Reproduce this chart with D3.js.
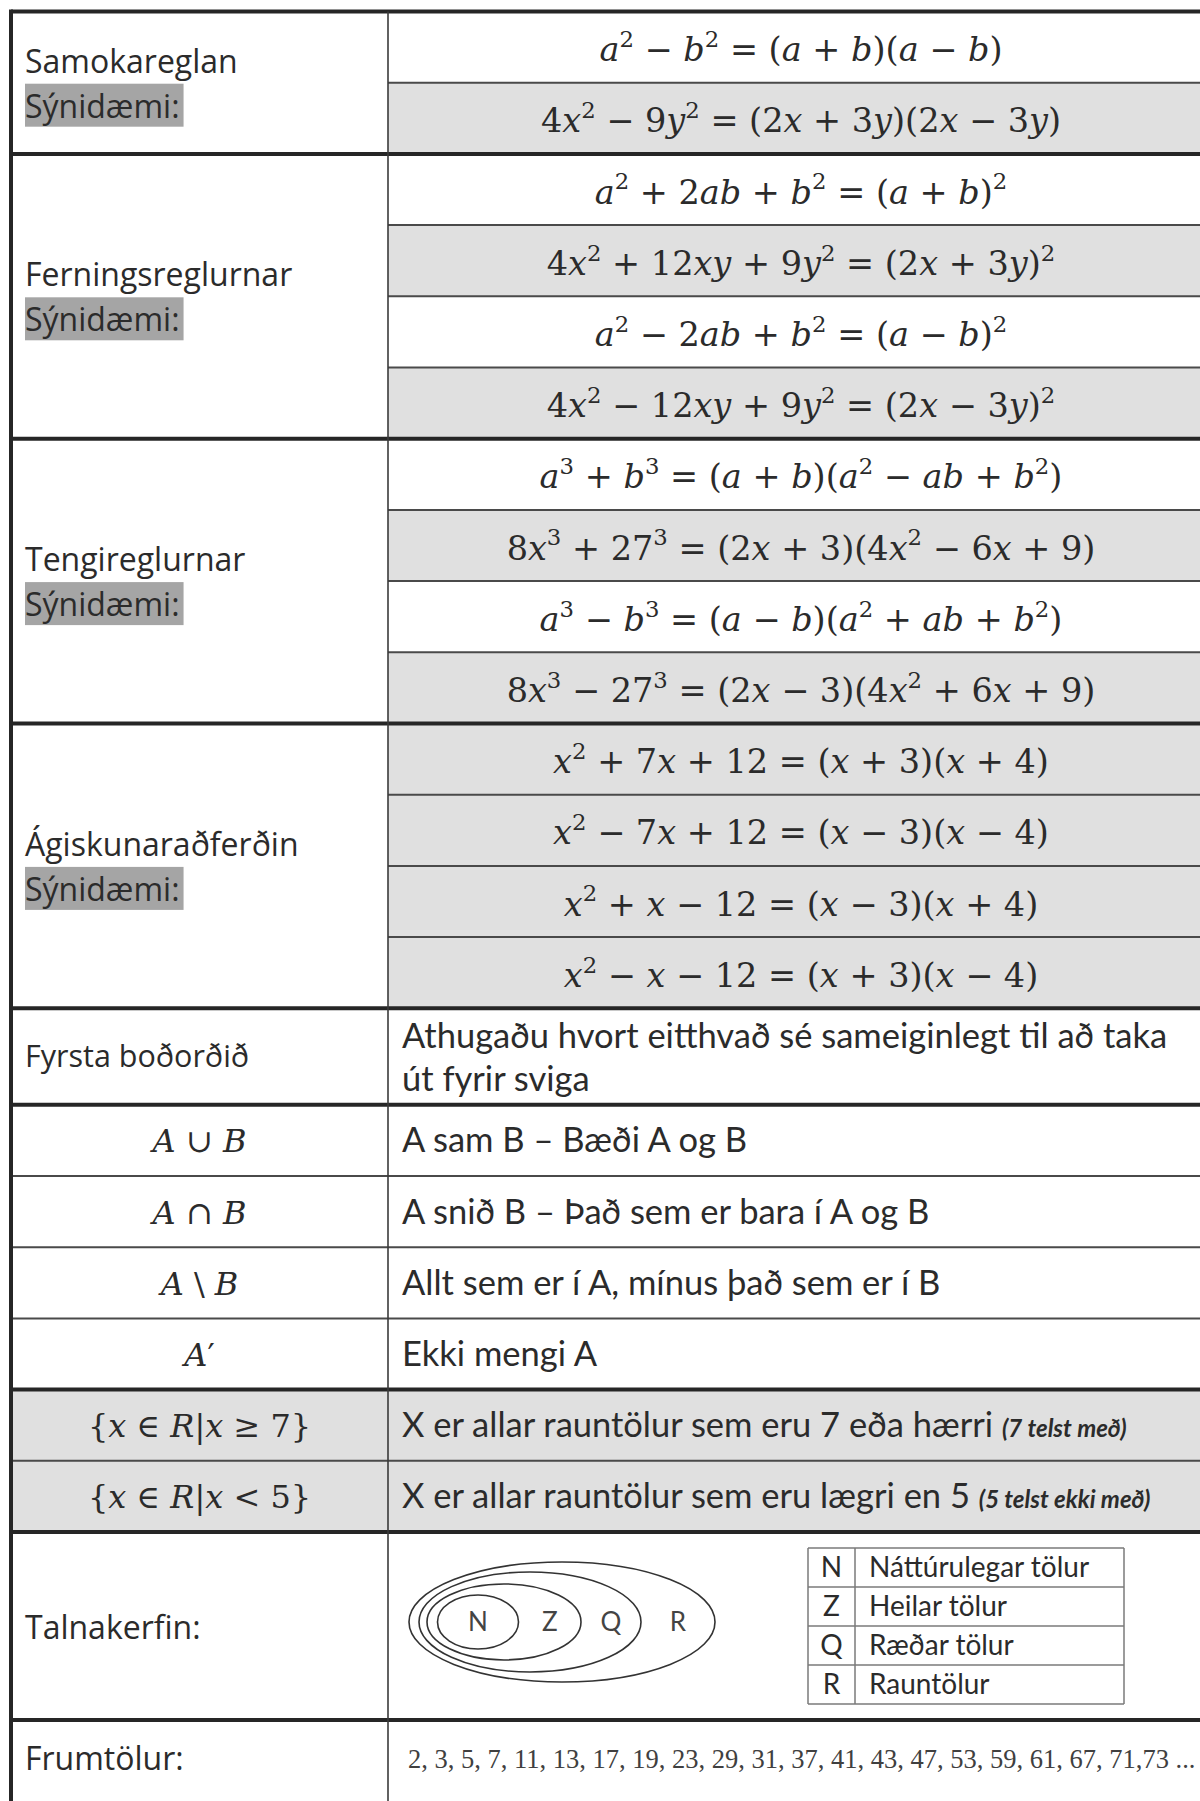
<!DOCTYPE html>
<html lang="is">
<head>
<meta charset="UTF-8">
<title>Þáttun, mengi og talnakerfi</title>
<script src="https://cdn.jsdelivr.net/npm/d3@7"></script>
<style>
  body { margin: 0; background: #fff; }
  text { white-space: pre; }
</style>
</head>
<body>
<svg width="1200" height="1801"></svg>
<script>
// gögn
var groupLabels = ["Samokareglan", "Ferningsreglurnar", "Tengireglurnar", "Ágiskunaraðferðin"];
var groupRowCounts = [2, 4, 4, 4];
var exampleLabel = "Sýnidæmi:";
var equations = [
  "a^2 − b^2 = (a + b)(a − b)",
  "4x^2 − 9y^2 = (2x + 3y)(2x − 3y)",
  "a^2 + 2ab + b^2 = (a + b)^2",
  "4x^2 + 12xy + 9y^2 = (2x + 3y)^2",
  "a^2 − 2ab + b^2 = (a − b)^2",
  "4x^2 − 12xy + 9y^2 = (2x − 3y)^2",
  "a^3 + b^3 = (a + b)(a^2 − ab + b^2)",
  "8x^3 + 27^3 = (2x + 3)(4x^2 − 6x + 9)",
  "a^3 − b^3 = (a − b)(a^2 + ab + b^2)",
  "8x^3 − 27^3 = (2x − 3)(4x^2 + 6x + 9)",
  "x^2 + 7x + 12 = (x + 3)(x + 4)",
  "x^2 − 7x + 12 = (x − 3)(x − 4)",
  "x^2 + x − 12 = (x − 3)(x + 4)",
  "x^2 − x − 12 = (x + 3)(x − 4)"
];
var shadedEquations = [false, true, false, true, false, true, false, true, false, true, true, true, true, true];
var ruleLabel = "Fyrsta boðorðið";
var ruleLines = ["Athugaðu hvort eitthvað sé sameiginlegt til að taka", "út fyrir sviga"];
var setSymbols = ["A ∪ B", "A ∩ B", "A \\ B", "A′", "{x ∈ R|x ≥ 7}", "{x ∈ R|x < 5}"];
var setTexts = [
  "A sam B – Bæði A og B",
  "A snið B – Það sem er bara í A og B",
  "Allt sem er í A, mínus það sem er í B",
  "Ekki mengi A",
  "X er allar rauntölur sem eru 7 eða hærri",
  "X er allar rauntölur sem eru lægri en 5"
];
var setNotes = ["", "", "", "", "(7 telst með)", "(5 telst ekki með)"];
var shadedSets = [false, false, false, false, true, true];
var numberSetsLabel = "Talnakerfin:";
var numberSets = ["N", "Z", "Q", "R"];
var numberSetNames = ["Náttúrulegar tölur", "Heilar tölur", "Ræðar tölur", "Rauntölur"];
var primesLabel = "Frumtölur:";
var primes = [2, 3, 5, 7, 11, 13, 17, 19, 23, 29, 31, 37, 41, 43, 47, 53, 59, 61, 67, 71, 73];

// útlit
var svg = d3.select("svg");
var W = +svg.attr("width");
var xLeft = 11, xDiv = 388, xRight = 1214;
var padL = 25, padR = 402;
var ink = "#2b2b2b", shade = "#e0e0e0";
var sansL = "'Open Sans', 'Noto Sans', sans-serif";
var sansR = "Lato, 'Open Sans', sans-serif";
var mathF = "'DejaVu Serif', serif";
var labelSize = 32, bodySize = 34.5;
var y = d3.scaleLinear().domain([0, 1]).range([11.5, 11.5 + 71.2]);

// raðir töflunnar
var rows = [];
var eqIdx = 0;
groupRowCounts.forEach(function(n, g) {
  d3.range(n).forEach(function(k) {
    rows.push({kind: "eq", i: eqIdx++, g: g, units: 1, thick: k === 0});
  });
});
rows.push({kind: "rule", units: 1.355, thick: true});
setSymbols.forEach(function(s, i) {
  rows.push({kind: "set", i: i, units: 1, thick: i === 0 || shadedSets[i] !== shadedSets[i - 1]});
});
rows.push({kind: "numbers", units: 2.64, thick: true});
rows.push({kind: "primes", units: 1.22, thick: true});
var acc = 0;
rows.forEach(function(r) {
  r.y0 = y(acc); acc += r.units; r.y1 = y(acc); r.yc = (r.y0 + r.y1) / 2;
});

// stærðfræðitexti: bókstafir skáletraðir, ^n sem veldi
function mathText(sel, str, fs) {
  var re = /\^(\d)|([A-Za-z]+)|([^A-Za-z^]+)/g, m, raised = false;
  sel.attr("font-family", mathF).attr("font-size", fs).attr("fill", ink);
  while ((m = re.exec(str))) {
    var t = sel.append("tspan");
    if (m[1]) {
      t.text(m[1]).attr("font-size", fs * 0.68).attr("dy", -fs * 0.42);
      raised = true;
    } else {
      if (raised) { t.attr("dy", fs * 0.42); raised = false; }
      t.text(m[2] || m[3]).attr("font-style", m[2] ? "italic" : "normal");
    }
  }
}

// skyggðir reitir
var bg = svg.append("g");
bg.selectAll("rect.eq")
  .data(rows.filter(function(r) { return r.kind === "eq" && shadedEquations[r.i]; }))
  .enter().append("rect")
  .attr("x", xDiv).attr("y", function(d) { return d.y0; })
  .attr("width", W - xDiv).attr("height", function(d) { return d.y1 - d.y0; })
  .attr("fill", shade);
bg.selectAll("rect.set")
  .data(rows.filter(function(r) { return r.kind === "set" && shadedSets[r.i]; }))
  .enter().append("rect")
  .attr("x", xLeft).attr("y", function(d) { return d.y0; })
  .attr("width", W - xLeft).attr("height", function(d) { return d.y1 - d.y0; })
  .attr("fill", shade);

var txt = svg.append("g");

// jöfnur
rows.filter(function(r) { return r.kind === "eq"; }).forEach(function(r) {
  mathText(txt.append("text")
    .attr("x", (xDiv + xRight) / 2).attr("y", r.yc + 14)
    .attr("text-anchor", "middle"), equations[r.i], 33.5);
});

// heiti reglna með "Sýnidæmi:"
groupLabels.forEach(function(label, g) {
  var gr = rows.filter(function(r) { return r.kind === "eq" && r.g === g; });
  var yc = (gr[0].y0 + gr[gr.length - 1].y1) / 2;
  txt.append("text").attr("x", padL).attr("y", yc - 10)
    .attr("font-family", sansL).attr("font-size", labelSize).attr("fill", ink).text(label);
  var hl = txt.append("rect").attr("x", padL).attr("y", yc + 1).attr("height", 43).attr("fill", "#a5a5a5");
  var ex = txt.append("text").attr("x", padL).attr("y", yc + 35)
    .attr("font-family", sansL).attr("font-size", labelSize).attr("fill", ink).text(exampleLabel);
  hl.attr("width", ex.node().getComputedTextLength() + 4);
});

// fyrsta boðorðið
rows.filter(function(r) { return r.kind === "rule"; }).forEach(function(r) {
  txt.append("text").attr("x", padL).attr("y", r.yc + 10)
    .attr("font-family", sansL).attr("font-size", 30.5).attr("fill", ink).text(ruleLabel);
  txt.selectAll(null).data(ruleLines).enter().append("text")
    .attr("x", padR).attr("y", function(d, i) { return r.yc - 9 + i * 43; })
    .attr("font-family", sansR).attr("font-size", bodySize).attr("fill", ink).text(function(d) { return d; });
});

// mengi
rows.filter(function(r) { return r.kind === "set"; }).forEach(function(r) {
  mathText(txt.append("text").attr("x", (xLeft + xDiv) / 2).attr("y", r.yc + 12)
    .attr("text-anchor", "middle"), setSymbols[r.i], 32);
  var t = txt.append("text").attr("x", padR).attr("y", r.yc + 12)
    .attr("font-family", sansR).attr("font-size", bodySize).attr("fill", ink);
  t.append("tspan").text(setTexts[r.i]);
  if (setNotes[r.i]) {
    t.append("tspan").text(" ");
    t.append("tspan").text(setNotes[r.i]).attr("font-size", 24)
      .attr("font-weight", "bold").attr("font-style", "italic");
  }
});

// talnakerfin
rows.filter(function(r) { return r.kind === "numbers"; }).forEach(function(r) {
  txt.append("text").attr("x", padL).attr("y", r.yc + 13)
    .attr("font-family", sansL).attr("font-size", labelSize).attr("fill", ink).text(numberSetsLabel);

  // mengjamynd: hreiðraðar sporbaugar sem deila vinstri brún
  var rx = [40.5, 77, 111, 153], ry = [27, 38, 50, 60], leftEdge = [437.5, 427, 419, 409];
  var cy = r.yc - 4;
  var venn = numberSets.map(function(s, i) {
    var cx = leftEdge[i] + rx[i];
    return {s: s, cx: cx, rx: rx[i], ry: ry[i], right: cx + rx[i]};
  });
  venn.forEach(function(d, i) { d.lx = i === 0 ? d.cx : (venn[i - 1].right + d.right) / 2; });
  var vg = svg.append("g");
  vg.selectAll("ellipse").data(venn).enter().append("ellipse")
    .attr("cx", function(d) { return d.cx; }).attr("cy", cy)
    .attr("rx", function(d) { return d.rx; }).attr("ry", function(d) { return d.ry; })
    .attr("fill", "none").attr("stroke", "#333").attr("stroke-width", 1.6);
  vg.selectAll("text").data(venn).enter().append("text")
    .attr("x", function(d) { return d.lx; }).attr("y", cy + 9)
    .attr("text-anchor", "middle").attr("font-family", sansR).attr("font-size", 26)
    .attr("fill", "#444").text(function(d) { return d.s; });

  // skýringartafla
  var lx0 = 808, lx1 = 1124, lxd = 855, lh = 39;
  var ly = d3.scaleBand().domain(d3.range(numberSets.length))
    .range([r.yc - 2 * lh, r.yc + 2 * lh]);
  var lg = svg.append("g");
  lg.selectAll("line.h").data(d3.range(numberSets.length + 1)).enter().append("line")
    .attr("x1", lx0).attr("x2", lx1)
    .attr("y1", function(d) { return r.yc - 2 * lh + d * ly.bandwidth(); })
    .attr("y2", function(d) { return r.yc - 2 * lh + d * ly.bandwidth(); })
    .attr("stroke", "#7a7a7a").attr("stroke-width", 1.5);
  [lx0, lxd, lx1].forEach(function(x) {
    lg.append("line").attr("x1", x).attr("x2", x)
      .attr("y1", ly.range()[0]).attr("y2", ly.range()[1])
      .attr("stroke", "#7a7a7a").attr("stroke-width", 1.5);
  });
  lg.selectAll("text.k").data(numberSets).enter().append("text")
    .attr("x", (lx0 + lxd) / 2).attr("y", function(d, i) { return ly(i) + lh / 2 + 10; })
    .attr("text-anchor", "middle").attr("font-family", sansR).attr("font-size", 28)
    .attr("fill", ink).text(function(d) { return d; });
  lg.selectAll("text.n").data(numberSetNames).enter().append("text")
    .attr("x", lxd + 14).attr("y", function(d, i) { return ly(i) + lh / 2 + 10; })
    .attr("font-family", sansR).attr("font-size", 28)
    .attr("fill", ink).text(function(d) { return d; });
});

// frumtölur
rows.filter(function(r) { return r.kind === "primes"; }).forEach(function(r) {
  txt.append("text").attr("x", padL).attr("y", r.yc + 7)
    .attr("font-family", sansL).attr("font-size", labelSize).attr("fill", ink).text(primesLabel);
  txt.append("text").attr("x", 408).attr("y", r.yc + 5)
    .attr("font-family", "'Liberation Serif', serif").attr("font-size", 26.5).attr("fill", "#404040")
    .text(primes.slice(0, -1).join(", ") + "," + primes[primes.length - 1] + " ...");
});

// línur
var ln = svg.append("g");
ln.selectAll("line.row").data(rows).enter().append("line")
  .attr("x1", function(d) { return d.thick || d.kind !== "eq" ? xLeft : xDiv; })
  .attr("x2", xRight)
  .attr("y1", function(d) { return d.y0; }).attr("y2", function(d) { return d.y0; })
  .attr("stroke", function(d) { return d.thick ? "#262626" : "#4a4a4a"; })
  .attr("stroke-width", function(d) { return d.thick ? 4 : 2; });
ln.append("line").attr("x1", xDiv).attr("x2", xDiv)
  .attr("y1", rows[0].y0).attr("y2", 1801)
  .attr("stroke", "#3a3a3a").attr("stroke-width", 1.6);
ln.append("line").attr("x1", xLeft).attr("x2", xLeft)
  .attr("y1", rows[0].y0 - 2).attr("y2", 1801)
  .attr("stroke", "#262626").attr("stroke-width", 4);
</script>
</body>
</html>
